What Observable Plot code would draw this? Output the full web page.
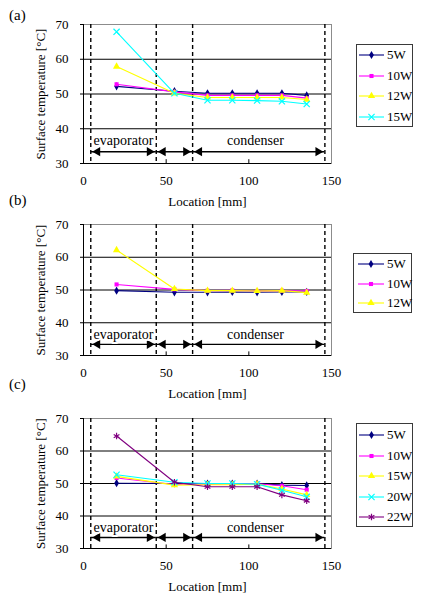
<!DOCTYPE html>
<html>
<head>
<meta charset="utf-8">
<script src="https://cdn.jsdelivr.net/npm/d3@7"></script>
<script src="https://cdn.jsdelivr.net/npm/@observablehq/plot@0.6"></script>
<style>
  body { margin: 0; background: #fff; font-family: "Liberation Serif", "Times New Roman", serif; }
  #root { position: relative; width: 421px; height: 600px; overflow: hidden; background: #fff; }
  #root svg, #root svg text { font-family: "Liberation Serif", "Times New Roman", serif !important; }
  .panel { position: absolute; left: 0; }
  .tag { position: absolute; left: 9px; font-size: 15px; line-height: 18px; color: #000; }
  .legend { position: absolute; border: 1px solid #3a3a3a; background: #fff; box-sizing: border-box; }
  .row { position: absolute; left: 0; height: 20px; display: flex; align-items: center; font-size: 13px; color: #000; white-space: nowrap; }
  .row svg { display: block; }
</style>
</head>
<body>
<div id="root"></div>
<script>
// ---- data ----
const locations = [20, 55, 75, 90, 105, 120, 135];
const xTicks = [0, 50, 100, 150];
const yTicks = [30, 40, 50, 60, 70];
const gridLevels = [40, 50, 60];
const innerXTicks = [50, 100];
const zoneBoundaries = [4.4, 44, 66, 146];
const zoneStarts = [4.4, 44, 66];
const zoneEnds = [44, 66, 146];
const zoneNames = ["evaporator", "condenser"];
const zoneNameCenters = [24.2, 104];
const arrowLevel = 33.4;
const zoneNameLevel = 36.5;

// panel (a)
const a5W  = [52.2, 50.8, 50.2, 50.2, 50.2, 50.2, 49.6];
const a10W = [52.8, 50.6, 49.6, 49.6, 49.6, 49.6, 48.8];
const a12W = [57.9, 50.2, 49.0, 49.0, 49.0, 49.0, 48.4];
const a15W = [67.9, 50.2, 48.2, 48.2, 48.1, 47.9, 47.1];
// panel (b)
const b5W  = [49.8, 49.3, 49.3, 49.4, 49.3, 49.4, 49.4];
const b10W = [51.7, 50.2, 49.8, 49.9, 49.7, 49.8, 49.7];
const b12W = [62.2, 50.3, 49.8, 49.8, 49.7, 49.8, 49.2];
// panel (c)
const c5W  = [50.1, 50.0, 50.0, 50.0, 50.0, 49.5, 49.4];
const c10W = [51.7, 49.7, 49.8, 49.9, 49.9, 49.3, 48.1];
const c15W = [52.2, 49.5, 49.6, 49.6, 49.8, 48.3, 46.5];
const c20W = [52.7, 50.4, 50.0, 50.0, 49.8, 47.9, 45.9];
const c22W = [64.6, 50.4, 49.0, 49.0, 49.0, 46.5, 44.7];

const panelTags = ["(a)", "(b)", "(c)"];
const panelSeries = [
  [["5W", a5W, "navy"], ["10W", a10W, "magenta"], ["12W", a12W, "yellow"], ["15W", a15W, "cyan"]],
  [["5W", b5W, "navy"], ["10W", b10W, "magenta"], ["12W", b12W, "yellow"]],
  [["5W", c5W, "navy"], ["10W", c10W, "magenta"], ["15W", c15W, "yellow"], ["20W", c20W, "cyan"], ["22W", c22W, "purple"]]
];

// ---- styles ----
const styles = {
  navy:    { color: "#000080", symbol: "diamond",  sym: d3.symbolDiamond,  r: 2.5, filled: true },
  magenta: { color: "#ff00ff", symbol: "square",   sym: d3.symbolSquare,   r: 2.3, filled: true },
  yellow:  { color: "#ffff00", symbol: "triangle", sym: d3.symbolTriangle, r: 2.7, filled: true },
  cyan:    { color: "#00ffff", symbol: "times",    sym: d3.symbolTimes,    r: 2.9, filled: false },
  purple:  { color: "#800080", symbol: "asterisk", sym: d3.symbolAsterisk, r: 3.1, filled: false }
};

// ---- layout ----
const layouts = [
  { plotTop: 24,  plotH: 139, tagY: 15,  lg: { x: 356, y: 44,  w: 57, h: 83,  first: 10, gap: 20.7, sx1: 2, sx2: 27 } },
  { plotTop: 224, plotH: 131, tagY: 200, lg: { x: 353, y: 253, w: 59, h: 60,  first: 10, gap: 19.7, sx1: 4, sx2: 30 } },
  { plotTop: 418, plotH: 130, tagY: 384, lg: { x: 356, y: 423, w: 57, h: 104, first: 11, gap: 20.5, sx1: 2, sx2: 27 } }
];

const root = document.getElementById("root");
const mt = 20, mb = 46, ml = 83, mr = 90;
const serif = "'Liberation Serif', 'Times New Roman', serif";

panelSeries.forEach((series, k) => {
  const L = layouts[k];
  const marks = [
    Plot.ruleY(gridLevels, { stroke: "#000", strokeWidth: 1 }),
    Plot.frame({ stroke: "#8c8c8c" }),
    Plot.ruleX([0], { stroke: "#000" }),
    Plot.ruleY([30], { stroke: "#000" }),
    Plot.ruleX(innerXTicks, { y1: 30, y2: 31.1, stroke: "#000" }),
    Plot.ruleX(zoneBoundaries, { stroke: "#000", strokeWidth: 1.4, strokeDasharray: "4,3" }),
    Plot.ruleY(zoneStarts.map((s, i) => ({ s, e: zoneEnds[i] })), { y: arrowLevel, x1: "s", x2: "e", stroke: "#000", strokeWidth: 1.4 }),
    Plot.dot(zoneStarts, { x: d => d, y: arrowLevel, symbol: "triangle", r: 3.4, fill: "#000", rotate: -90, dx: 6.8 }),
    Plot.dot(zoneEnds, { x: d => d, y: arrowLevel, symbol: "triangle", r: 3.4, fill: "#000", rotate: 90, dx: -6.8 }),
    Plot.text(zoneNames, { x: (d, i) => zoneNameCenters[i], y: zoneNameLevel, text: d => d, fontSize: 14, fontFamily: serif, fill: "#000", stroke: "#fff", strokeWidth: 4, paintOrder: "stroke" }),
    Plot.axisY(yTicks, { tickSize: 3, tickPadding: 12, fontFamily: serif, label: "Surface temperature [°C]", labelAnchor: "center", labelOffset: 48, labelArrow: "none" }),
    Plot.axisX(xTicks, { tickSize: 0, tickPadding: 12, fontFamily: serif, label: "Location [mm]", labelAnchor: "center", labelOffset: 42, labelArrow: "none" })
  ];
  series.forEach(([name, values, key]) => {
    const s = styles[key];
    marks.push(Plot.line(values, { x: (d, i) => locations[i], y: d => d, stroke: s.color, strokeWidth: 1.1 }));
    if (s.filled) {
      marks.push(Plot.dot(values, { x: (d, i) => locations[i], y: d => d, symbol: s.symbol, r: s.r, fill: s.color, stroke: "none" }));
    } else {
      marks.push(Plot.dot(values, { x: (d, i) => locations[i], y: d => d, symbol: s.symbol, r: s.r, fill: "none", stroke: s.color, strokeWidth: 1.2 }));
    }
  });

  const chart = Plot.plot({
    width: 421,
    height: mt + L.plotH + mb,
    marginTop: mt, marginBottom: mb, marginLeft: ml, marginRight: mr,
    style: { background: "transparent", fontFamily: serif, fontSize: "13px", color: "#000", overflow: "visible" },
    x: { domain: [0, 150] },
    y: { domain: [30, 70] },
    marks
  });
  const wrap = document.createElement("div");
  wrap.className = "panel";
  wrap.style.top = (L.plotTop - mt) + "px";
  wrap.appendChild(chart);
  root.appendChild(wrap);

  const tag = document.createElement("div");
  tag.className = "tag";
  tag.style.top = (L.tagY - 9) + "px";
  tag.textContent = panelTags[k];
  root.appendChild(tag);

  // legend
  const g = L.lg;
  const box = d3.select(root).append("div").attr("class", "legend")
    .style("left", g.x + "px").style("top", g.y + "px")
    .style("width", g.w + "px").style("height", g.h + "px");
  series.forEach(([name, , key], i) => {
    const s = styles[key];
    const row = box.append("div").attr("class", "row").style("top", (g.first + i * g.gap - 10) + "px");
    const sw = row.append("svg").attr("width", g.sx2 + 3).attr("height", 20);
    sw.append("line").attr("x1", g.sx1).attr("x2", g.sx2).attr("y1", 10).attr("y2", 10)
      .attr("stroke", s.color).attr("stroke-width", 1.1);
    sw.append("path").attr("transform", `translate(${(g.sx1 + g.sx2) / 2},10)`)
      .attr("d", d3.symbol(s.sym, Math.PI * s.r * s.r)())
      .attr("fill", s.filled ? s.color : "none")
      .attr("stroke", s.filled ? "none" : s.color)
      .attr("stroke-width", 1.2);
    row.append("span").text(name);
  });
});
</script>
</body>
</html>
